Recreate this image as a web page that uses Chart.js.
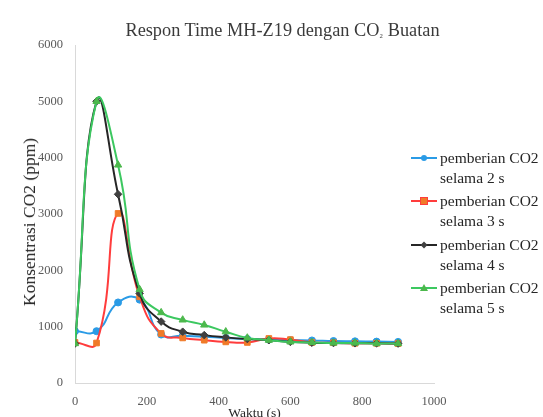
<!DOCTYPE html>
<html>
<head>
<meta charset="utf-8">
<script src="https://cdn.jsdelivr.net/npm/chart.js@4"></script>
<style>
  html, body { margin: 0; padding: 0; background: #fff; }
  #wrap { position: relative; width: 543px; height: 417px; overflow: hidden; font-family: "Liberation Serif", "Times New Roman", serif; }
  #c { position: absolute; left: 0; top: 0; }
  #title { position: absolute; left: 282.5px; top: 19px; transform: translateX(-50%); white-space: nowrap; font-size: 18.3px; line-height: 22px; color: #3a3a3a; }
  #title .sub { font-size: 11px; }
  #ytitle { position: absolute; left: 28.5px; top: 221.5px; transform: translate(-50%, -50%) rotate(-90deg); white-space: nowrap; font-size: 17.5px; line-height: 20px; color: #262626; }
  #legend { position: absolute; left: 411px; top: 148px; font-size: 15.5px; line-height: 20px; color: #262626; }
  .item { position: relative; height: 43.3px; }
  .item svg { position: absolute; left: 0; top: 4px; }
  .item .txt { position: absolute; left: 29px; top: 0; white-space: nowrap; }
</style>
</head>
<body>
<div id="wrap">
  <canvas id="c" width="543" height="417"></canvas>
  <div id="title">Respon Time MH-Z19 dengan CO<span class="sub">₂</span> Buatan</div>
  <div id="ytitle">Konsentrasi CO2 (ppm)</div>
  <div id="legend"></div>
</div>
<script>
// ---- data ----
const times = [0, 60, 120, 180, 240, 300, 360, 420, 480, 540, 600, 660, 720, 780, 840, 900];
const seriesNames = [
  ["pemberian CO2", "selama 2 s"],
  ["pemberian CO2", "selama 3 s"],
  ["pemberian CO2", "selama 4 s"],
  ["pemberian CO2", "selama 5 s"]
];
const co2_2s = [920, 920, 1430, 1480, 860, 840, 820, 800, 780, 770, 760, 755, 745, 740, 735, 730];
const co2_3s = [720, 710, 3010, 1530, 880, 800, 760, 730, 720, 790, 770, 720, 715, 705, 705, 700];
const co2_4s = [700, 5000, 3350, 1590, 1090, 910, 850, 810, 780, 760, 730, 715, 710, 705, 705, 700];
const co2_5s = [700, 5000, 3870, 1660, 1250, 1120, 1030, 910, 800, 760, 730, 720, 710, 710, 700, 700];
const yTicks = [0, 1000, 2000, 3000, 4000, 5000, 6000];
const xTicks = [0, 200, 400, 600, 800, 1000];

// ---- styles ----
const styles = [
  { line: '#2a9be6', fill: '#2a9be6', point: 'circle', r: 3.5 },
  { line: '#ff3c3c', fill: '#f07a28', point: 'rect', r: 4 },
  { line: '#262626', fill: '#404040', point: 'rectRot', r: 3.8 },
  { line: '#3cc860', fill: '#4cb84c', point: 'triangle', r: 4.2 }
];
const allSeries = [co2_2s, co2_3s, co2_4s, co2_5s];

const datasets = allSeries.map((vals, i) => ({
  label: seriesNames[i].join(' '),
  data: times.map((t, k) => ({ x: t, y: vals[k] })),
  borderColor: styles[i].line,
  backgroundColor: styles[i].fill,
  pointBackgroundColor: styles[i].fill,
  pointBorderColor: styles[i].fill,
  pointStyle: styles[i].point,
  pointRadius: styles[i].r,
  pointBorderWidth: 1,
  borderWidth: 2,
  tension: 0.5,
  order: 3 - i
}));

const serif = "'Liberation Serif', 'Times New Roman', serif";

new Chart(document.getElementById('c'), {
  type: 'line',
  data: { datasets },
  options: {
    responsive: false,
    animation: false,
    devicePixelRatio: 1,
    layout: { padding: { left: 0, right: 109, top: 45, bottom: 0 } },
    plugins: { legend: { display: false }, tooltip: { enabled: false }, title: { display: false } },
    scales: {
      x: {
        type: 'linear',
        min: 0, max: 1000,
        afterFit: s => { s.height = 34; },
        afterBuildTicks: s => { s.ticks = xTicks.map(v => ({ value: v })); },
        grid: { display: false, drawTicks: false },
        border: { display: true, color: '#d9d9d9', width: 1 },
        ticks: { color: '#595959', font: { family: serif, size: 12.5 }, padding: 11, maxRotation: 0, callback: v => String(v) },
        title: { display: true, text: 'Waktu (s)', color: '#262626', font: { family: serif, size: 13.5 }, padding: { top: 0, bottom: -5 } }
      },
      y: {
        type: 'linear',
        min: 0, max: 6000,
        afterFit: s => { s.width = 75; },
        afterBuildTicks: s => { s.ticks = yTicks.map(v => ({ value: v })); },
        grid: { display: false, drawTicks: false },
        border: { display: true, color: '#d9d9d9', width: 1 },
        ticks: { color: '#595959', font: { family: serif, size: 12.5 }, padding: 12, callback: v => String(v) },
        title: { display: false }
      }
    }
  }
});

// ---- HTML legend ----
const legend = document.getElementById('legend');
function markerSvg(st) {
  const cx = 13, cy = 6;
  let m = '';
  if (st.point === 'circle') m = `<circle cx="${cx}" cy="${cy}" r="3" fill="${st.fill}"/>`;
  else if (st.point === 'rect') m = `<rect x="${cx-3.5}" y="${cy-3.5}" width="7" height="7" fill="${st.fill}" stroke="${st.line}" stroke-width="1"/>`;
  else if (st.point === 'rectRot') m = `<polygon points="${cx},${cy-3.5} ${cx+3.5},${cy} ${cx},${cy+3.5} ${cx-3.5},${cy}" fill="${st.fill}"/>`;
  else m = `<polygon points="${cx},${cy-4} ${cx+4},${cy+3} ${cx-4},${cy+3}" fill="${st.fill}"/>`;
  return `<svg width="26" height="12"><line x1="0" y1="${cy}" x2="26" y2="${cy}" stroke="${st.line}" stroke-width="2"/>${m}</svg>`;
}
seriesNames.forEach((name, i) => {
  const d = document.createElement('div');
  d.className = 'item';
  d.innerHTML = markerSvg(styles[i]) + `<div class="txt">${name[0]}<br>${name[1]}</div>`;
  legend.appendChild(d);
});
</script>
</body>
</html>
